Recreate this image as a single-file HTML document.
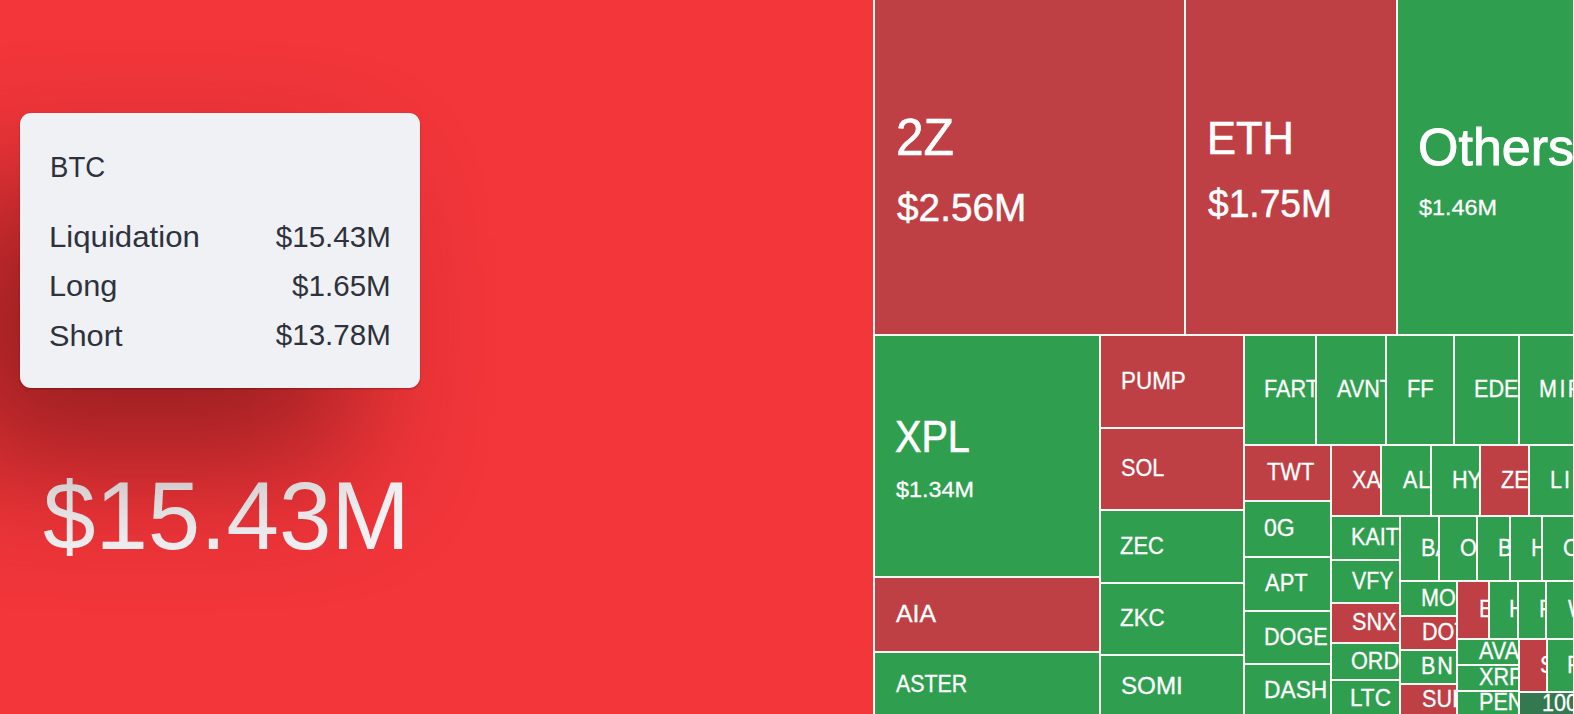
<!DOCTYPE html>
<html><head><meta charset="utf-8"><title>Liquidation Heatmap</title>
<style>
html,body{margin:0;padding:0;}
body{width:1574px;height:714px;overflow:hidden;position:relative;background:#f2363a;font-family:"Liberation Sans",sans-serif;}
#left{position:absolute;left:0;top:0;width:873px;height:714px;background:#f2363a;overflow:hidden;}
#map{position:absolute;left:873px;top:0;width:701px;height:714px;background:#fcf8f5;overflow:hidden;}
.c{position:absolute;overflow:hidden;color:#fff;font-size:23.5px;-webkit-text-stroke:0.3px #fff;padding-bottom:1px;white-space:nowrap;box-sizing:border-box;padding-left:20px;display:flex;align-items:center;}
.c span{display:inline-block;transform-origin:0 50%;transform:scaleX(0.94);}
.big{position:absolute;overflow:hidden;color:#fff;white-space:nowrap;}
.big div{position:absolute;white-space:nowrap;transform-origin:0 0;line-height:1;-webkit-text-stroke:0.5px #fff;}
#tip{position:absolute;left:20px;top:113px;width:400px;height:275px;border-radius:11px;background:#f0f1f5;box-shadow:0 1px 2px rgba(60,0,0,0.35),-72px 76px 135px 0px rgba(40,0,0,0.44);color:#2d323c;}
#tip div{position:absolute;white-space:nowrap;line-height:1;font-size:29px;transform-origin:0 0;}
#tip div.r{transform-origin:100% 0;}
#bigv{position:absolute;left:43px;top:468px;font-size:96px;line-height:1;color:#f7f7f9;white-space:nowrap;transform-origin:0 0;transform:scaleX(0.982);}
</style></head><body>
<div id="left">
<div id="bigv">$15.43M</div>
<div id="tip">
<div style="left:29.5px;top:40px;transform:scaleX(0.95)">BTC</div>
<div style="left:28.5px;top:110px;transform:scaleX(1.075)">Liquidation</div>
<div style="left:28.5px;top:159px;transform:scaleX(1.06)">Long</div>
<div style="left:28.5px;top:208.5px;transform:scaleX(1.06)">Short</div>
<div class="r" style="right:29.5px;top:110px;transform:scaleX(1.02)">$15.43M</div>
<div class="r" style="right:29.5px;top:159px;transform:scaleX(1.02)">$1.65M</div>
<div class="r" style="right:29.5px;top:208px;transform:scaleX(1.02)">$13.78M</div>
</div>
</div>
<div id="map">

<div class="big" style="left:2px;top:0px;width:309px;height:334px;background:#be4045"><div style="left:21px;top:111px;font-size:52px;transform:scaleX(0.955);-webkit-text-stroke-width:0.65px">2Z</div><div style="left:22px;top:188px;font-size:39px;transform:scaleX(0.995);-webkit-text-stroke-width:0.5px">$2.56M</div></div>
<div class="big" style="left:313px;top:0px;width:210px;height:334px;background:#be4045"><div style="left:20.5px;top:115px;font-size:46px;transform:scaleX(0.945);-webkit-text-stroke-width:0.65px">ETH</div><div style="left:21.5px;top:185px;font-size:38px;transform:scaleX(0.978);-webkit-text-stroke-width:0.5px">$1.75M</div></div>
<div class="big" style="left:525px;top:0px;width:175px;height:334px;background:#309e4f"><div style="left:20px;top:121px;font-size:52px;transform:scaleX(1);-webkit-text-stroke-width:0.95px">Others</div><div style="left:21px;top:197px;font-size:22.5px;transform:scaleX(1.04);-webkit-text-stroke-width:0.3px">$1.46M</div></div>
<div class="big" style="left:2px;top:336px;width:224px;height:240px;background:#309e4f"><div style="left:20px;top:79px;font-size:44px;transform:scaleX(0.9);-webkit-text-stroke-width:0.65px">XPL</div><div style="left:21px;top:143px;font-size:22.5px;transform:scaleX(1.04);-webkit-text-stroke-width:0.3px">$1.34M</div></div>
<div class="c" style="left:2px;top:578px;width:224px;height:73px;background:#be4045;padding-left:20.6px"><span style="transform:scaleX(1.057)">AIA</span></div>
<div class="c" style="left:2px;top:653px;width:224px;height:63px;background:#309e4f;padding-left:20.6px"><span style="transform:scaleX(0.9102)">ASTER</span></div>
<div class="c" style="left:228px;top:336px;width:142px;height:91px;background:#be4045;padding-left:20.1px"><span style="transform:scaleX(0.9543)">PUMP</span></div>
<div class="c" style="left:228px;top:429px;width:142px;height:80px;background:#be4045;padding-left:19.8px"><span style="transform:scaleX(0.92)">SOL</span></div>
<div class="c" style="left:228px;top:511px;width:142px;height:71px;background:#309e4f;padding-left:19px"><span style="transform:scaleX(0.9347)">ZEC</span></div>
<div class="c" style="left:228px;top:584px;width:142px;height:70px;background:#309e4f;padding-left:19px"><span style="transform:scaleX(0.9494)">ZKC</span></div>
<div class="c" style="left:228px;top:656px;width:142px;height:62px;background:#309e4f;padding-left:19.8px"><span style="transform:scaleX(1.0277)">SOMI</span></div>
<div class="c" style="left:372px;top:336px;width:70px;height:108px;background:#309e4f;padding-left:18.7px"><span style="transform:scaleX(0.92)">FARTCOIN</span></div>
<div class="c" style="left:444px;top:336px;width:68px;height:108px;background:#309e4f;padding-left:19.7px"><span style="transform:scaleX(0.92)">AVNT</span></div>
<div class="c" style="left:514px;top:336px;width:66px;height:108px;background:#309e4f;padding-left:19.7px"><span style="transform:scaleX(0.9298)">FF</span></div>
<div class="c" style="left:582px;top:336px;width:63px;height:108px;background:#309e4f;padding-left:19.4px"><span style="transform:scaleX(0.92)">EDEN</span></div>
<div class="c" style="left:647px;top:336px;width:53px;height:108px;background:#309e4f;padding-left:19px"><span style="transform:scaleX(0.92);letter-spacing:2.6px">MIRA</span></div>
<div class="c" style="left:372px;top:446px;width:85px;height:54px;background:#be4045;padding-left:22px"><span style="transform:scaleX(0.9298)">TWT</span></div>
<div class="c" style="left:372px;top:502px;width:85px;height:54px;background:#309e4f;padding-left:19.4px"><span style="transform:scaleX(0.9787)">0G</span></div>
<div class="c" style="left:372px;top:558px;width:85px;height:52px;background:#309e4f;padding-left:20.1px"><span style="transform:scaleX(0.9347)">APT</span></div>
<div class="c" style="left:372px;top:612px;width:85px;height:51px;background:#309e4f;padding-left:19.3px"><span style="transform:scaleX(0.92)">DOGE</span></div>
<div class="c" style="left:372px;top:665px;width:85px;height:51px;background:#309e4f;padding-left:19.3px"><span style="transform:scaleX(0.9689)">DASH</span></div>
<div class="c" style="left:459px;top:446px;width:48px;height:69px;background:#be4045;padding-left:20px"><span style="transform:scaleX(0.92)">XAN</span></div>
<div class="c" style="left:509px;top:446px;width:48px;height:69px;background:#309e4f;padding-left:20.6px"><span style="transform:scaleX(0.92);letter-spacing:0.9px">ALT</span></div>
<div class="c" style="left:559px;top:446px;width:47px;height:69px;background:#309e4f;padding-left:20px"><span style="transform:scaleX(0.92)">HYPE</span></div>
<div class="c" style="left:608px;top:446px;width:47px;height:69px;background:#be4045;padding-left:20.2px"><span style="transform:scaleX(0.92)">ZEN</span></div>
<div class="c" style="left:657px;top:446px;width:43px;height:69px;background:#309e4f;padding-left:20px"><span style="transform:scaleX(0.92);letter-spacing:2.2px">LINK</span></div>
<div class="c" style="left:459px;top:517px;width:67px;height:42px;background:#309e4f;padding-left:18.9px"><span style="transform:scaleX(0.92)">KAITO</span></div>
<div class="c" style="left:459px;top:561px;width:67px;height:41px;background:#309e4f;padding-left:20px"><span style="transform:scaleX(0.9053)">VFY</span></div>
<div class="c" style="left:459px;top:604px;width:67px;height:38px;background:#be4045;padding-left:19.8px"><span style="transform:scaleX(0.92)">SNX</span></div>
<div class="c" style="left:459px;top:644px;width:67px;height:35px;background:#309e4f;padding-left:19.4px"><span style="transform:scaleX(0.92)">ORDI</span></div>
<div class="c" style="left:459px;top:681px;width:67px;height:35px;background:#309e4f;padding-left:18.4px"><span style="transform:scaleX(0.9591)">LTC</span></div>
<div class="c" style="left:528px;top:517px;width:37px;height:63px;background:#309e4f;padding-left:20px"><span style="transform:scaleX(0.92)">BARD</span></div>
<div class="c" style="left:567px;top:517px;width:36px;height:63px;background:#309e4f;padding-left:20px"><span style="transform:scaleX(0.92)">OP</span></div>
<div class="c" style="left:605px;top:517px;width:31px;height:63px;background:#309e4f;padding-left:20px"><span style="transform:scaleX(0.92)">BNB</span></div>
<div class="c" style="left:638px;top:517px;width:30px;height:63px;background:#309e4f;padding-left:20px"><span style="transform:scaleX(0.92)">HEMI</span></div>
<div class="c" style="left:670px;top:517px;width:30px;height:63px;background:#309e4f;padding-left:20px"><span style="transform:scaleX(0.92)">CAKE</span></div>
<div class="c" style="left:528px;top:582px;width:55px;height:33px;background:#309e4f;padding-left:20.4px"><span style="transform:scaleX(0.92)">MORPHO</span></div>
<div class="c" style="left:528px;top:617px;width:55px;height:32px;background:#be4045;padding-left:21.4px"><span style="transform:scaleX(0.92)">DOT</span></div>
<div class="c" style="left:528px;top:651px;width:55px;height:32px;background:#309e4f;padding-left:20px"><span style="transform:scaleX(0.92);letter-spacing:2px">BNB</span></div>
<div class="c" style="left:528px;top:685px;width:55px;height:29px;background:#be4045;padding-left:21.4px"><span style="transform:scaleX(0.92)">SUI</span></div>
<div class="c" style="left:585px;top:582px;width:30px;height:56px;background:#be4045;padding-left:21.1px"><span style="transform:scaleX(0.92)">ENA</span></div>
<div class="c" style="left:617px;top:582px;width:27px;height:56px;background:#309e4f;padding-left:19.4px"><span style="transform:scaleX(0.92)">HBAR</span></div>
<div class="c" style="left:646px;top:582px;width:26px;height:56px;background:#309e4f;padding-left:19.7px"><span style="transform:scaleX(0.92)">FIL</span></div>
<div class="c" style="left:674px;top:582px;width:26px;height:56px;background:#309e4f;padding-left:21px"><span style="transform:scaleX(0.92)">WLD</span></div>
<div class="c" style="left:585px;top:640px;width:60px;height:24px;background:#309e4f;padding-left:20.6px"><span style="transform:scaleX(0.92)">AVAX</span></div>
<div class="c" style="left:585px;top:666px;width:60px;height:24px;background:#309e4f;padding-left:20.6px"><span style="transform:scaleX(0.92)">XRP</span></div>
<div class="c" style="left:585px;top:692px;width:60px;height:22px;background:#309e4f;padding-left:20.5px"><span style="transform:scaleX(0.92)">PENGU</span></div>
<div class="c" style="left:647px;top:640px;width:26px;height:51px;background:#be4045;padding-left:20.1px"><span style="transform:scaleX(0.92)">STBL</span></div>
<div class="c" style="left:675px;top:640px;width:25px;height:51px;background:#309e4f;padding-left:18.7px"><span style="transform:scaleX(0.92)">FET</span></div>
<div class="c" style="left:647px;top:693px;width:53px;height:21px;background:#34784f;padding-left:21.6px"><span style="transform:scaleX(0.92)">1000PEPE</span></div>
</div></body></html>
